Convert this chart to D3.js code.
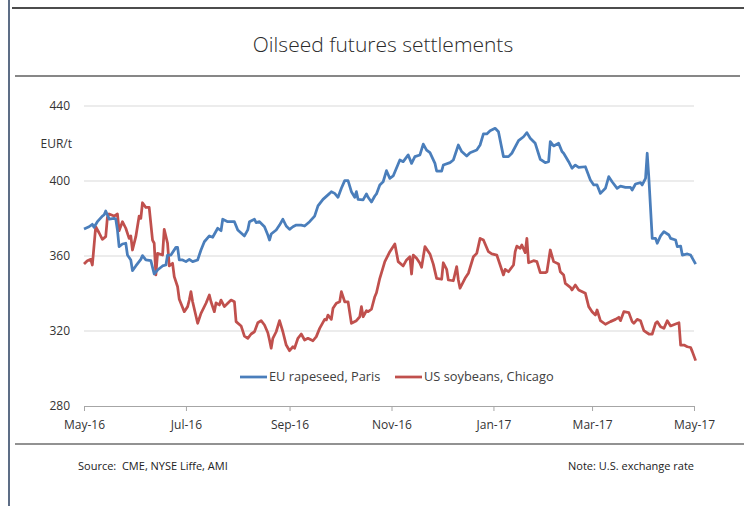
<!DOCTYPE html>
<html>
<meta charset="utf-8">
<title>Oilseed futures settlements</title>
<style>
  body { margin: 0; background: #fff; }
  text { font-family: "Open Sans", sans-serif; }
</style>
<body>
<div id="chart"></div>
<script src="https://d3js.org/d3.v7.min.js"></script>
<script>
// day offsets from 1 May 2016, prices in EUR/t
var rapeDays = [0,3,5,6,8,11,12,13,15,18,19,20,21,23,25,26,28,29,31,34,35,37,40,42,44,47,49,50,52,55,56,57,59,61,63,65,68,70,72,75,77,80,82,83,86,90,92,96,98,99,102,103,105,108,110,111,112,115,117,119,121,123,125,127,130,132,135,138,140,143,147,148,150,152,154,156,158,160,162,163,164,167,169,170,172,174,175,177,179,181,183,185,189,191,194,196,198,201,203,205,207,210,211,214,215,219,221,224,226,229,231,235,237,239,241,243,246,248,251,254,256,260,263,265,267,270,273,276,278,279,281,284,286,287,290,292,294,296,300,303,305,307,309,312,314,316,319,321,324,327,328,330,333,334,336,337,338,340,342,343,345,347,350,351,354,355,357,358,361,363,366];
var rapePrices = [374.4,375.6,376.9,375.3,378.3,381.3,381.9,384,379.7,380.1,379.7,373.9,365,366.4,366.8,360.5,357.9,352.2,354.7,358.2,360.2,357.9,357.5,350.4,352.5,354.7,355.2,360.5,360.5,364.6,364.6,357.9,357.9,357,358.2,357,357.9,363.2,367.6,370.7,370,374.8,373.5,379.6,378.3,378.3,373.9,370.7,373.9,378.3,379.6,377.8,378.3,375.6,371.2,368.5,371.7,373.9,376.5,379.6,376,374.2,375.6,376.5,376.5,376,378.3,381.3,386.7,390.2,393.4,394.3,393.4,391.3,396.1,400.2,400.2,394.3,391.3,394.3,390.2,389.9,393.1,391.3,388.8,392,393.1,397.9,399.6,405.5,401.4,402.7,411.2,410.3,413.9,409.4,413,413.9,419.7,416.5,415.1,409.4,405.3,405.3,408.5,409.8,411.2,419.2,415.7,413.3,415.1,416.5,419.2,425.1,425.1,426.8,428.1,426.3,413,413,414.8,421.5,423.6,425.8,422.8,420.1,411.6,409.8,410.3,421,418.7,420.1,415.7,414.8,410.3,406.8,408.5,407.3,407.6,400.5,397.9,397.9,393.4,396.1,402.3,399.6,396.1,397.3,396.6,396.6,395.2,398.4,399.1,397.9,401.4,414.8,401.4,369.4,369.4,366.8,370.7,373,371.2,369.4,368.5,365,365.3,360.5,361.1,360.5,355.7];

var soyDays = [0,2,4,5,7,9,11,13,14,15,18,20,21,23,25,27,28,29,31,33,34,35,37,39,41,42,43,44,47,48,50,51,53,54,56,57,60,62,63,64,65,68,70,73,75,76,78,79,81,82,84,86,88,90,91,94,96,98,100,102,104,106,108,110,111,112,113,115,117,119,121,123,125,126,128,130,132,134,137,139,141,144,145,146,148,149,151,153,154,156,158,160,163,165,166,167,169,170,172,174,175,177,180,183,186,188,191,193,195,196,197,199,201,202,204,207,209,211,214,215,217,218,221,223,224,225,228,230,233,235,237,239,242,244,247,249,251,252,254,257,258,259,261,262,264,265,266,269,271,273,276,277,279,281,284,285,287,288,291,292,294,296,300,302,304,306,307,309,312,315,318,320,321,323,326,328,329,331,333,335,338,340,342,343,345,347,349,351,354,356,357,359,361,363,364,366];
var soyPrices = [355.7,357.5,358.2,355.2,375.6,372.4,368.9,370.3,380.6,382.4,381.3,382.4,373.5,378.3,374.8,369.4,370.7,363.2,370.3,381.3,380.1,388.4,385.9,385.9,368.5,366.8,349.9,361.4,360.5,374.2,366.8,354.7,356.1,349,343.6,336.9,330.3,333,336.5,341,335.6,324.1,329.4,334.8,339.2,335.6,330.3,335,333.9,336.5,333,334.8,336.5,335.6,325,322.7,317.3,316.1,318.4,319.6,324.4,325.5,323.2,319.1,315.2,310.8,316.1,319.6,325.5,319.6,312.5,309.5,311.6,310.8,316.1,318.4,315.2,316.1,314.8,317,321.4,326.2,325.9,328.5,326.2,332.1,334.8,335.6,341,335.6,335.6,324.1,325.5,327.6,333,327.6,330.8,330.3,331.6,338.3,340.4,348.1,357,362.3,366.4,357,354.7,357.9,359.6,350.4,360.5,358.8,356.1,354,365,361.1,355.7,348.1,347.6,356.4,352.9,347.2,346.8,354.3,347.2,342.8,348.1,350.8,359.6,361.4,369.4,368.5,362.3,361.1,360.5,355.2,349.9,352.9,351.6,355.2,362.3,365.3,364.1,365.9,361.8,369.4,356.4,357.5,357,351.1,351.1,351.6,363.2,357,355.7,351.6,349.9,345.4,343.3,341.9,344.5,341.9,340.1,333,330.3,328.5,331.2,325.5,323.6,325,326.2,327.3,325.5,330.3,329.8,325,324.1,326.2,325.5,320.2,318.4,318.4,324.1,325,322.3,321.4,325.5,322.7,323.7,324.4,312.5,312.5,311.6,311.2,309,304.2];

var seriesNames = ["EU rapeseed, Paris", "US soybeans, Chicago"];
var yTicks = [280, 320, 360, 400, 440];
var xTickMonths = ["2016-05", "2016-07", "2016-09", "2016-11", "2017-01", "2017-03", "2017-05"];

var W = 744, H = 506;
var start = new Date(2016, 4, 1);
var parseMonth = d3.timeParse("%Y-%m");

var svg = d3.select("#chart").append("svg")
  .attr("width", W).attr("height", H);

// frame lines
svg.append("line").attr("x1", 9).attr("x2", 9).attr("y1", 0).attr("y2", H)
  .style("stroke", "#5d6d86").style("stroke-width", 2);
svg.append("line").attr("x1", 12).attr("x2", W).attr("y1", 8).attr("y2", 8)
  .style("stroke", "#111").style("stroke-width", 1.5);
svg.append("line").attr("x1", 15).attr("x2", 740).attr("y1", 76).attr("y2", 76)
  .style("stroke", "#111").style("stroke-width", 1.2);
svg.append("line").attr("x1", 15).attr("x2", W).attr("y1", 444).attr("y2", 444)
  .style("stroke", "#6e6e6e").style("stroke-width", 1.5);

svg.append("text")
  .attr("x", 383).attr("y", 52)
  .style("text-anchor", "middle")
  .style("font-size", "21px")
  .style("font-weight", 300)
  .style("fill", "#2b2b2b")
  .text("Oilseed futures settlements");

var x = d3.scaleTime()
  .domain([start, parseMonth("2017-05")])
  .range([84, 694]);
var y = d3.scaleLinear().domain([280, 440]).range([406, 106]);

// gridlines
svg.append("g").selectAll("line")
  .data(yTicks.filter(function (d) { return d > 280; }))
  .enter().append("line")
  .attr("x1", 84).attr("x2", 694)
  .attr("y1", function (d) { return y(d); })
  .attr("y2", function (d) { return y(d); })
  .style("stroke", "#d9d9d9").style("stroke-width", 1);

// y labels
svg.append("g").selectAll("text")
  .data(yTicks).enter().append("text")
  .attr("x", 70)
  .attr("y", function (d) { return y(d); })
  .attr("dy", "0.35em")
  .style("text-anchor", "end")
  .style("font-size", "12px")
  .style("fill", "#333")
  .text(function (d) { return d; });

svg.append("text")
  .attr("x", 72).attr("y", 148)
  .style("text-anchor", "end")
  .style("font-size", "12px")
  .style("fill", "#333")
  .text("EUR/t");

// x axis
var xAxis = d3.axisBottom(x)
  .tickValues(xTickMonths.map(parseMonth))
  .tickFormat(d3.timeFormat("%b-%y"))
  .tickSize(5)
  .tickSizeOuter(0);
var gx = svg.append("g").attr("transform", "translate(0,406)").call(xAxis);
gx.select(".domain").style("stroke", "#a6a6a6");
gx.selectAll(".tick line").style("stroke", "#a6a6a6");
gx.selectAll(".tick text")
  .attr("y", 14)
  .style("font-family", "Open Sans")
  .style("font-size", "12px")
  .style("fill", "#333");

var line = d3.line()
  .x(function (d) { return x(d3.timeDay.offset(start, d[0])); })
  .y(function (d) { return y(d[1]); });

var soy = d3.zip(soyDays, soyPrices);
var rape = d3.zip(rapeDays, rapePrices);

svg.append("path").datum(soy).attr("d", line)
  .style("fill", "none").style("stroke", "#c0504d")
  .style("stroke-width", 2.75).style("stroke-linejoin", "round");
svg.append("path").datum(rape).attr("d", line)
  .style("fill", "none").style("stroke", "#4a7ebb")
  .style("stroke-width", 2.75).style("stroke-linejoin", "round");

// legend
var legend = [
  { name: seriesNames[0], color: "#4a7ebb", x: 240 },
  { name: seriesNames[1], color: "#c0504d", x: 395 }
];
legend.forEach(function (l) {
  svg.append("line")
    .attr("x1", l.x).attr("x2", l.x + 27)
    .attr("y1", 377).attr("y2", 377)
    .style("stroke", l.color).style("stroke-width", 2.75);
  svg.append("text")
    .attr("x", l.x + 29).attr("y", 377).attr("dy", "0.35em")
    .style("font-size", "12.8px")
    .style("fill", "#404040")
    .text(l.name);
});

// footer
svg.append("text")
  .attr("x", 78).attr("y", 470)
  .style("font-size", "11px").style("fill", "#222")
  .style("white-space", "pre")
  .text("Source:  CME, NYSE Liffe, AMI");
svg.append("text")
  .attr("x", 694).attr("y", 470)
  .style("text-anchor", "end")
  .style("font-size", "11px").style("fill", "#222")
  .text("Note: U.S. exchange rate");
</script>
</body>
</html>
